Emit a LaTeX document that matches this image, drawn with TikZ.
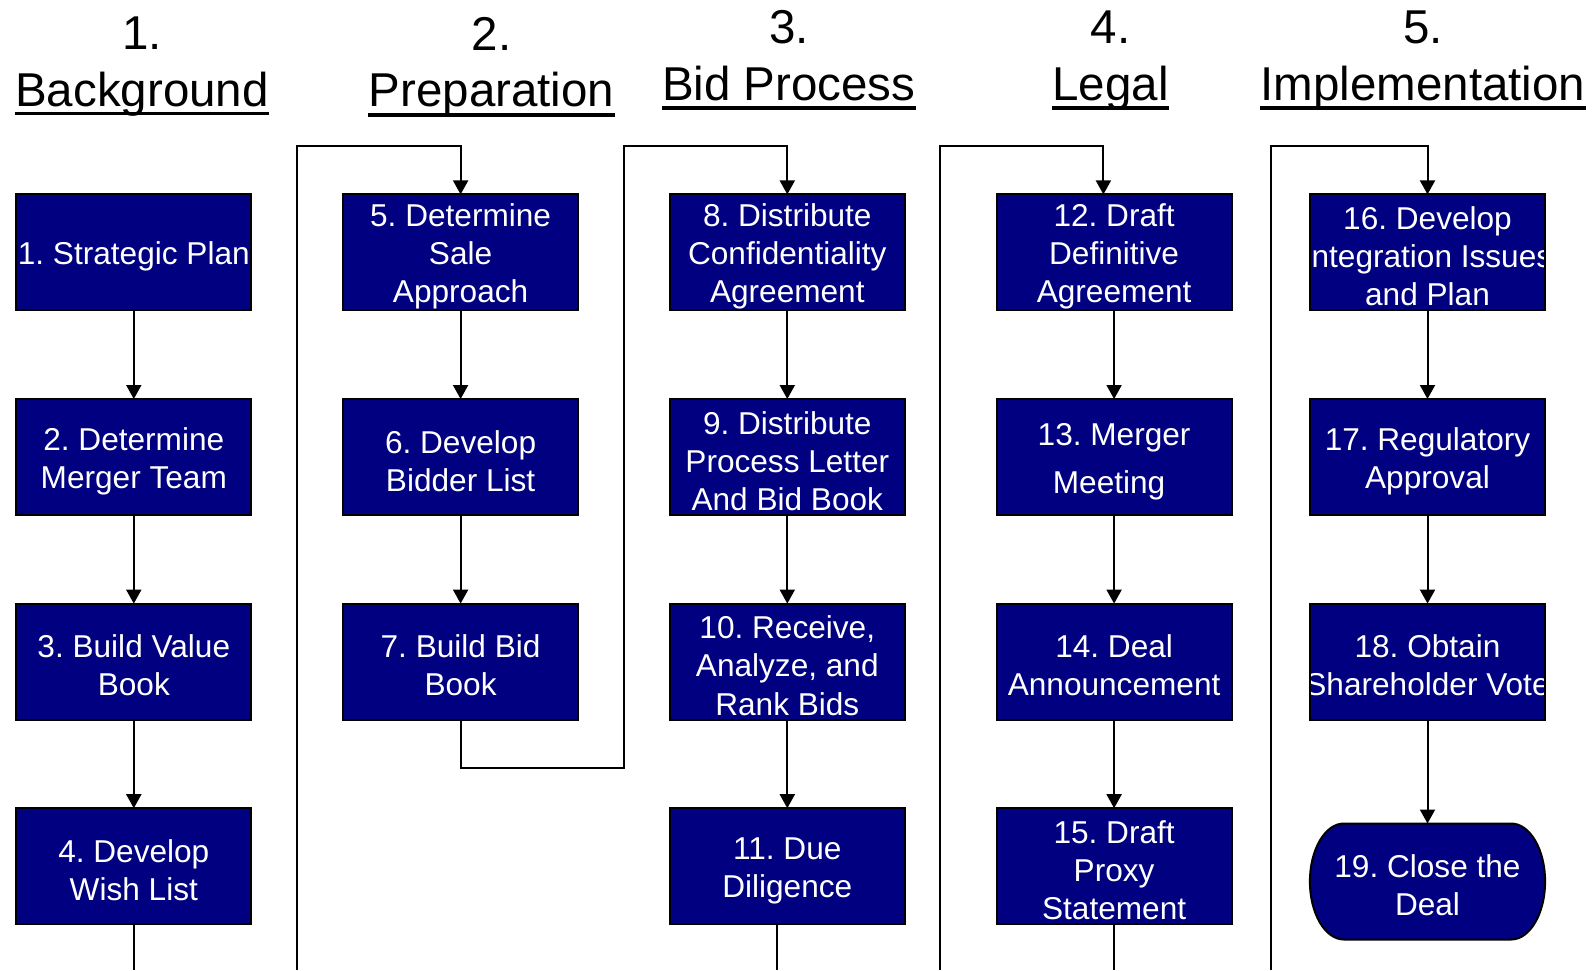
\documentclass[tikz,border=0pt]{standalone}
\usepackage{fontspec}
\setmainfont{Liberation Sans}
\usetikzlibrary{arrows.meta,backgrounds}
\definecolor{navy}{RGB}{0,0,128}
\newcommand\bs{\rule{0pt}{15.4pt}}
\begin{document}
\begin{tikzpicture}[x=0.5pt,y=-0.5pt,
  box/.style={rectangle, fill=navy, draw=black, line width=1pt,
    minimum width=117.6pt, minimum height=58pt, inner sep=0pt, outer sep=0pt,
    text=white, align=center,
    font=\fontsize{15.8}{19.1}\selectfont\frenchspacing},
  endbox/.style={box, fill=none, draw=none},
  hnum/.style={anchor=base, inner sep=0pt, font=\fontsize{23.75}{28}\selectfont},
  htitle/.style={hnum},
  uline/.style={line width=1.8pt},
  conn/.style={line width=1pt},
  arr/.style={conn, -{Triangle[width=7.5pt,length=7pt]}},
]
\useasboundingbox (0,0) rectangle (1596,970);

% ---------- headers ----------
\node[hnum]   (h1n) at (142,49.3)  {1.};
\node[htitle] (h1t) at (142,106)   {Background};
\node[hnum]   (h2n) at (491.6,50.7) {2.};
\node[htitle] (h2t) at (491.6,106.7) {Preparation};
\node[hnum]   (h3n) at (788.8,43.3) {3.};
\node[htitle] (h3t) at (788.8,100)  {Bid Process};
\node[hnum]   (h4n) at (1110.5,43.3) {4.};
\node[htitle] (h4t) at (1110.5,100)  {Legal};
\node[hnum]   (h5n) at (1423,43.3) {5.};
\node[htitle] (h5t) at (1423,100)  {Implementation};

\draw[uline] ([yshift=-3.7pt]h1t.base west) -- ([yshift=-3.7pt]h1t.base east);
\draw[uline] ([yshift=-4.1pt]h2t.base west) -- ([yshift=-4.1pt]h2t.base east);
\draw[uline] ([yshift=-4pt]h3t.base west) -- ([yshift=-4pt]h3t.base east);
\draw[uline] ([yshift=-4pt]h4t.base west) -- ([yshift=-4pt]h4t.base east);
\draw[uline] ([yshift=-4pt]h5t.base west) -- ([yshift=-4pt]h5t.base east);

% ---------- boxes ----------
% column 1
\node[box] (b1) at (133.8,252.4) {\bs 1. Strategic Plan};
\node[box] (b2) at (133.8,457.0) {\bs 2. Determine\\Merger Team};
\node[box] (b3) at (133.8,661.6) {\bs 3. Build Value\\Book};
\node[box] (b4) at (133.8,866.2) {\bs 4. Develop\\Wish List};
% column 2
\node[box] (b5) at (460.6,252.4) {\bs 5. Determine\\Sale\\Approach};
\node[box] (b6) at (460.6,457.0) {\bs 6. Develop\\Bidder List};
\node[box] (b7) at (460.6,661.6) {\bs 7. Build Bid\\Book};
% column 3
\node[box] (b8)  at (787.3,252.4) {\bs 8. Distribute\\Confidentiality\\Agreement};
\node[box] (b9)  at (787.3,457.0) {\bs 9. Distribute\\Process Letter\\And Bid Book};
\node[box] (b10) at (787.3,661.6) {\bs 10. Receive,\\Analyze, and\\Rank Bids};
\node[box] (b11) at (787.3,866.2) {\bs 11. Due\\Diligence};
% column 4
\node[box] (b12) at (1114.1,252.4) {\bs 12. Draft\\Definitive\\Agreement};
\node[box] (b13) at (1114.1,457.0) {\bs 13. Merger\\[4.8pt]Meeting\hspace*{5pt}};
\node[box] (b14) at (1114.1,661.6) {\bs 14. Deal\\Announcement};
\node[box] (b15) at (1114.1,866.2) {\bs 15. Draft\\Proxy\\Statement};
% column 5
\node[box] (b16) at (1427.5,252.4) {\bs 16. Develop\\\makebox[0pt]{Integration Issues}\\and Plan};
\node[box] (b17) at (1427.5,457.0) {\bs 17. Regulatory\\Approval};
\node[box] (b18) at (1427.5,661.6) {\bs 18. Obtain\\\makebox[0pt]{Shareholder Vote}};
\node[endbox] (b19) at (1427.5,881.5) {\bs 19. Close the\\Deal};

% redraw borders so overflowing text is hidden as in the reference
\draw[line width=1pt] (b16.south west) rectangle (b16.north east);
\draw[line width=1pt] (b18.south west) rectangle (b18.north east);

\begin{scope}[on background layer]
\filldraw[fill=navy, draw=black, line width=1pt]
  ([xshift=17pt]b19.north west) -- ([xshift=-17pt]b19.north east)
  arc[start angle=90, end angle=-90, x radius=17pt, y radius=29pt]
  -- ([xshift=17pt]b19.south west)
  arc[start angle=270, end angle=90, x radius=17pt, y radius=29pt]
  -- cycle;
\end{scope}

% ---------- connectors within columns ----------
\draw[arr] (b1) -- (b2);
\draw[arr] (b2) -- (b3);
\draw[arr] (b3) -- (b4);
\draw[arr] (b5) -- (b6);
\draw[arr] (b6) -- (b7);
\draw[arr] (b8) -- (b9);
\draw[arr] (b9) -- (b10);
\draw[arr] (b10) -- (b11);
\draw[arr] (b12) -- (b13);
\draw[arr] (b13) -- (b14);
\draw[arr] (b14) -- (b15);
\draw[arr] (b16) -- (b17);
\draw[arr] (b17) -- (b18);
\draw[arr] (b18) -- (b19);

% ---------- lines leaving at the bottom ----------
\coordinate (e4)  at (133.8,970);
\coordinate (e11) at (776.6,970);
\coordinate (e15) at (1114.1,970);
\draw[conn] (b4) -- (e4);
\draw[conn] (e11 |- b11.south) -- (e11);
\draw[conn] (b15) -- (e15);

% ---------- connectors between columns ----------
\coordinate (c12) at (297.2,970);
\coordinate (t12) at (297.2,145.6);
\draw[arr] (c12) -- (t12) -| (b5);

\coordinate (r23) at (624,767.5);
\coordinate (t23) at (624,145.6);
\draw[arr] (b7) |- (r23) -- (t23) -| (b8);

\coordinate (c34) at (939.5,970);
\coordinate (t34) at (939.5,145.6);
\coordinate (a12) at (1103.4,145.6);
\draw[arr] (c34) -- (t34) -- (a12) -- (a12 |- b12.north);

\coordinate (c45) at (1271.3,970);
\coordinate (t45) at (1271.3,145.6);
\draw[arr] (c45) -- (t45) -| (b16);
\end{tikzpicture}
\end{document}
